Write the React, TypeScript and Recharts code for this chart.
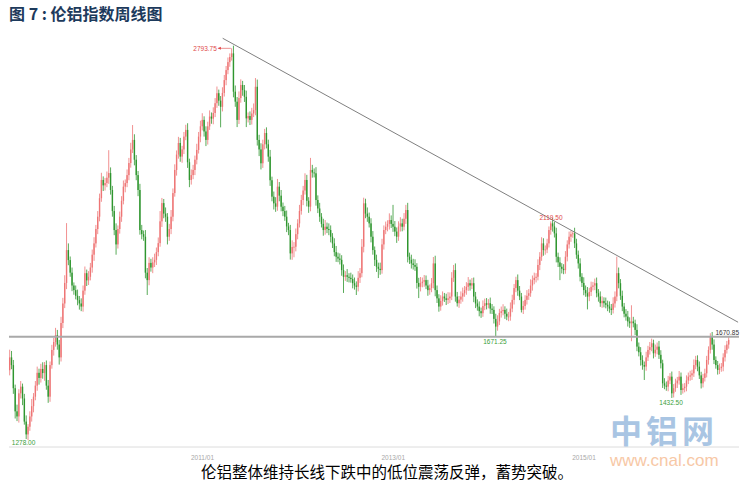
import React from "react";
import { ComposedChart, Bar, XAxis, YAxis, ReferenceLine, ReferenceDot } from "recharts";

// ---- data (weekly LME aluminium index) ----
const firstOpen = 1540;
const closes = [
  1590,1560,1470,1380,1360,1450,1476,1430,1340,1290,1320,1360,1400,1437,1480,1530,1510,1545,1529,1560,
  1480,1437,1560,1619,1650,1677,1640,1590,1724,1800,1880,2008,1969,1920,1870,1852,1830,1813,1800,1788,
  1850,1918,1890,1904,1940,1990,2034,2090,2138,2210,2281,2260,2269,2290,2308,2242,2160,2086,2030,2090,
  2138,2200,2255,2269,2300,2347,2400,2437,2360,2300,2242,2086,2070,2060,1920,1891,1958,1940,1960,1970,
  2000,2035,2120,2191,2150,2138,2060,2090,2138,2230,2320,2380,2425,2372,2400,2450,2476,2350,2281,2300,
  2320,2360,2398,2450,2490,2515,2470,2437,2490,2528,2520,2542,2580,2619,2590,2566,2620,2670,2709,2740,
  2760,2774,2625,2586,2515,2600,2651,2631,2605,2521,2530,2515,2540,2553,2644,2437,2400,2346,2420,2464,
  2420,2372,2280,2216,2190,2177,2255,2220,2177,2160,2138,2100,2086,1995,2020,2021,2070,2112,2160,2203,
  2240,2281,2200,2177,2320,2310,2307,2203,2170,2138,2110,2086,2099,2090,2086,2060,2034,2000,1982,1975,
  1970,1930,1904,1910,1904,1900,1895,1879,1870,1865,1900,1918,2021,2190,2150,2138,2112,2060,2008,1970,
  1943,1935,1930,2030,2086,2099,2110,2125,2110,2099,2080,2060,2100,2112,2099,2130,2164,1982,1970,1956,
  1950,1943,1880,1865,1879,1885,1891,1870,1852,1860,1879,1956,1852,1820,1788,1810,1827,1820,1814,1820,
  1827,1900,1930,1827,1801,1815,1827,1840,1852,1865,1879,1870,1879,1827,1800,1788,1770,1762,1790,1801,
  1795,1801,1780,1775,1740,1710,1730,1763,1770,1775,1760,1749,1749,1780,1814,1860,1891,1850,1827,1775,
  1790,1814,1830,1840,1870,1891,1900,1904,1950,1982,2034,2008,2010,2034,2086,2112,2100,2073,1982,1960,
  1943,1935,1930,1982,2030,2060,2070,2073,2034,1990,1956,1904,1880,1852,1840,1827,1845,1865,1870,1879,
  1840,1827,1801,1810,1801,1795,1788,1780,1775,1800,1827,1918,1879,1830,1788,1760,1749,1730,1723,1730,
  1723,1697,1632,1610,1580,1560,1554,1590,1619,1630,1645,1606,1620,1632,1600,1567,1489,1480,1476,1500,
  1515,1450,1470,1489,1500,1515,1463,1470,1476,1500,1515,1520,1528,1560,1580,1554,1520,1489,1510,1528,
  1580,1619,1671,1640,1580,1560,1541,1548,1554,1590,1619,1640,1658,
];
const wickUp = [
  30,25,20,14,26,16,22,12,18,24,10,20,28,14,18,24,16,20,26,12,
  18,22,14,20,16,28,20,18,24,22,30,105,26,14,20,12,18,24,16,20,
  20,26,14,22,18,20,24,16,22,18,28,14,20,24,89,22,16,20,26,14,
  20,18,24,14,22,20,26,58,22,18,16,24,20,14,26,18,22,16,20,24,
  18,22,40,20,16,24,14,20,26,18,22,16,24,20,14,18,20,26,14,22,
  20,16,24,18,22,26,14,20,18,24,16,22,20,26,14,18,22,20,16,18,
  14,20,30,24,18,26,22,16,20,24,14,18,22,26,34,28,20,24,18,16,
  22,18,26,14,20,24,30,18,22,16,20,24,14,20,26,18,22,16,24,20,
  18,26,20,14,47,20,16,24,18,22,14,20,26,16,22,18,14,20,24,16,
  20,18,22,16,24,14,20,18,22,16,26,20,30,22,18,24,16,20,22,14,
  20,16,24,22,18,20,14,26,18,74,22,16,20,24,18,22,20,28,16,20,
  18,22,14,20,24,16,20,18,22,14,20,25,30,18,16,22,20,14,18,24,
  16,22,20,26,18,14,20,22,16,18,24,14,20,22,18,16,20,14,22,18,
  20,16,22,18,14,20,24,16,18,22,14,20,18,24,20,16,13,22,18,14,
  20,18,22,16,24,18,20,14,22,18,24,20,16,18,14,8,20,18,22,16,
  20,14,18,22,16,20,14,7,22,18,16,20,14,22,18,24,16,20,14,18,
  22,16,20,18,14,22,16,20,18,24,20,64,22,16,20,14,18,22,16,63,
  18,14,22,16,20,18,14,22,16,20,18,14,20,16,22,18,14,20,16,18,
  14,20,16,18,14,22,16,18,14,20,16,18,14,22,16,18,20,14,16,18,
  16,14,13,18,20,14,16,18,14,16,18,14,15,
];
const wickDown = [
  20,16,22,28,18,24,20,26,12,18,22,16,20,24,14,20,26,18,22,30,
  16,24,20,14,22,18,20,28,16,20,18,24,20,16,22,18,14,20,24,18,
  20,16,22,18,14,20,24,16,20,18,14,22,20,16,24,18,22,20,40,16,
  18,20,14,22,16,20,18,14,22,20,24,18,20,16,22,58,20,16,22,18,
  20,16,14,22,18,20,30,16,20,18,14,22,16,20,24,18,14,22,28,18,
  16,20,18,14,22,16,20,24,18,14,20,22,16,18,20,80,18,14,20,16,
  18,14,22,20,28,16,18,22,20,34,16,20,18,14,20,22,26,24,18,20,
  16,20,22,18,24,20,16,22,18,20,16,22,20,24,25,40,18,20,16,14,
  20,16,22,24,18,20,16,22,18,20,14,22,18,16,20,22,18,16,20,14,
  18,22,63,16,20,18,14,20,16,32,18,20,16,22,18,20,16,22,18,24,
  20,36,18,14,20,16,18,22,16,20,18,24,16,20,18,14,20,22,16,20,
  18,16,22,44,18,16,20,14,22,18,16,20,24,18,20,16,18,14,20,16,
  18,14,16,20,13,18,16,20,14,18,16,20,14,22,18,16,20,18,14,16,
  18,14,20,16,18,39,16,14,18,16,20,14,18,16,14,18,16,20,14,10,
  16,14,18,16,14,20,16,18,14,20,16,22,18,14,16,18,20,16,22,18,
  52,18,16,14,18,16,20,14,18,16,20,18,16,20,14,50,18,16,14,18,
  16,20,14,18,16,14,18,16,20,14,16,18,20,16,18,14,16,20,18,70,
  16,20,18,16,22,18,52,16,14,18,16,20,14,18,16,20,18,14,16,18,
  14,18,16,14,18,16,19,14,16,18,14,16,18,14,16,18,14,20,16,14,
  16,18,14,20,16,14,18,16,14,18,16,14,16,
];
const padWeeks = 5;
const tickIndex = [105, 209, 313];
const tickLabels = ["2011/01", "2013/01", "2015/01"];
const yDomain = [1241, 2834];
const hLineValue = 1670.85;
const trendStart = { i: 116, v: 2833 };
const trendEnd = { i: 397, v: 1727 };
const peakLabels = [
  { i: 121, v: 2793.75, text: "2793.75", kind: "arrow" },
  { i: 8, v: 1278, text: "1278.00", kind: "below" },
  { i: 295, v: 2119.5, text: "2119.50", kind: "above" },
  { i: 265, v: 1671.25, text: "1671.25", kind: "below" },
  { i: 361, v: 1432.5, text: "1432.50", kind: "below" },
];

const UP = "#ee7575";
const DOWN = "#2f962f";
const RED_TXT = "#e04848";
const GREEN_TXT = "#3aa03a";

type Row = { idx: number; open?: number; close?: number; high?: number; low?: number; range?: number[] | null };
const data: Row[] = closes.map((c, i) => {
  const o = i === 0 ? firstOpen : closes[i - 1];
  const hi = Math.max(o, c) + wickUp[i];
  const lo = Math.min(o, c) - wickDown[i];
  return { idx: i, open: o, close: c, high: hi, low: lo, range: [lo, hi] };
});
for (let k = 0; k < padWeeks; k++) data.push({ idx: closes.length + k, range: null });

const Candle = (props: any) => {
  const { x, y, width, height, payload } = props;
  if (!payload || payload.open == null || y == null || height == null || isNaN(y)) return null;
  const { open, close, high, low } = payload;
  const color = close >= open ? UP : DOWN;
  const top = Math.min(y, y + height);
  const h = Math.abs(height);
  const span = high - low;
  const ratio = span > 0 ? h / span : 0;
  const yO = top + (high - open) * ratio;
  const yC = top + (high - close) * ratio;
  const bTop = Math.min(yO, yC);
  const bH = Math.max(Math.abs(yO - yC), 0.8);
  const cx = x + width / 2;
  return (
    <g>
      <line x1={cx} x2={cx} y1={top} y2={top + h} stroke={color} strokeWidth={0.8} />
      <rect x={cx - 0.7} y={bTop} width={1.4} height={bH} fill={color} />
    </g>
  );
};

const Tick = (props: any) => {
  const { x, y, payload } = props;
  const k = tickIndex.indexOf(payload.value);
  return (
    <text x={x} y={y + 5} textAnchor="middle" fontSize={6.5} fill="#a8a8a8" fontFamily="Liberation Sans, Arial">
      {k >= 0 ? tickLabels[k] : ""}
    </text>
  );
};

const makeAnnot = (lab: any) => (p: any) => {
  const { cx, cy } = p;
  if (cx == null || cy == null) return null;
  const font = { fontSize: 6.5, fontFamily: "Liberation Sans, Arial" };
  if (lab.kind === "arrow") {
    return (
      <g>
        <text x={cx - 15} y={cy + 2.5} textAnchor="end" fill={RED_TXT} {...font}>{lab.text}</text>
        <line x1={cx - 14} x2={cx - 1} y1={cy} y2={cy} stroke={RED_TXT} strokeWidth={0.6} />
        <path d={`M${cx - 14} ${cy} l3 -1.5 l0 3 z`} fill={RED_TXT} />
      </g>
    );
  }
  if (lab.kind === "above") {
    return <text x={cx} y={cy - 1} textAnchor="middle" fill={RED_TXT} {...font}>{lab.text}</text>;
  }
  return <text x={cx - 1} y={cy + 7} textAnchor="middle" fill={GREEN_TXT} {...font}>{lab.text}</text>;
};

const HLabel = (props: any) => {
  const vb = props.viewBox || {};
  return (
    <text x={vb.x + vb.width} y={vb.y - 1.5} textAnchor="end" fontSize={6.5} fill="#333" fontFamily="Liberation Sans, Arial">
      {hLineValue.toFixed(2)}
    </text>
  );
};

export default function App() {
  return (
    <div style={{ position: "absolute", left: 0, top: 0, width: 745, height: 489, background: "#fff" }}>
      <ComposedChart
        width={745}
        height={489}
        data={data}
        margin={{ top: 38, right: 6, bottom: 30, left: 9 }}
        style={{ position: "absolute", left: 0, top: 0 }}
      >
        <XAxis
          dataKey="idx"
          type="category"
          ticks={tickIndex}
          interval={0}
          tick={<Tick />}
          tickLine={false}
          axisLine={{ stroke: "#dcdcdc" }}
          height={12}
        />
        <YAxis yAxisId="l" type="number" domain={yDomain} allowDataOverflow tick={false} tickLine={false} axisLine={{ stroke: "#dcdcdc" }} width={0} />
        <YAxis yAxisId="r" orientation="right" type="number" domain={yDomain} allowDataOverflow tick={false} tickLine={false} axisLine={{ stroke: "#dcdcdc" }} width={0} />
        <ReferenceLine yAxisId="l" y={hLineValue} stroke="#a9a9a9" strokeWidth={2} label={<HLabel />} />
        <Bar yAxisId="l" dataKey="range" isAnimationActive={false} shape={<Candle />} />
        <ReferenceLine
          yAxisId="l"
          segment={[{ x: trendStart.i, y: trendStart.v }, { x: trendEnd.i, y: trendEnd.v }]}
          stroke="#808080"
          strokeWidth={1}
          ifOverflow="visible"
        />
        {peakLabels.map((lab) => (
          <ReferenceDot key={lab.text} yAxisId="l" x={lab.i} y={lab.v} r={0} ifOverflow="visible" shape={makeAnnot(lab)} />
        ))}
      </ComposedChart>
      <svg width={745} height={489} style={{ position: "absolute", left: 0, top: 0, pointerEvents: "none" }}>
        <text x={9} y={19.5} fontSize={16} fontWeight="bold" fill="#1d3a5c" fontFamily="Noto Sans CJK SC">图 7 : 伦铝指数周线图</text>
        <text x={610} y={443} fontSize={32} fontWeight="bold" fill="#a9c5e3" fontFamily="Noto Sans CJK SC" letterSpacing={4}>中铝网</text>
        <text x={610} y={466} fontSize={17} fill="#f7c8a6" fontFamily="Liberation Sans, Arial">www.cnal.com</text>
        <text x={201} y={477.5} fontSize={15.5} fill="#000" fontFamily="Noto Sans CJK SC">伦铝整体维持长线下跌中的低位震荡反弹，蓄势突破。</text>
      </svg>
    </div>
  );
}
